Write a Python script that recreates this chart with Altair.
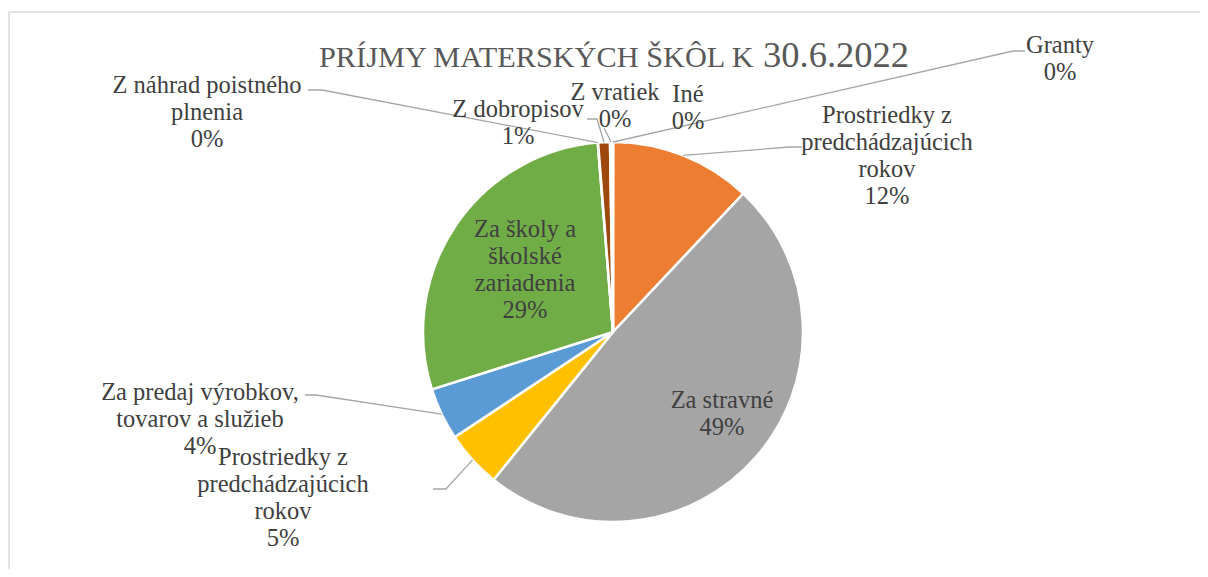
import math
import altair as alt
import pandas as pd

# ---------------- data ----------------
CATEGORIES = [
    "Granty",
    "Prostriedky z predchádzajúcich rokov",
    "Za stravné",
    "Prostriedky z predchádzajúcich rokov ",
    "Za predaj výrobkov, tovarov a služieb",
    "Za školy a školské zariadenia",
    "Z náhrad poistného plnenia",
    "Z dobropisov",
    "Z vratiek",
    "Iné",
]
VALUES = [0.02, 12.0, 48.8, 4.85, 4.45, 28.6, 0.03, 1.0, 0.2, 0.05]
COLORS = ["#4472C4", "#ED7D31", "#A5A5A5", "#FFC000", "#5B9BD5",
          "#70AD47", "#264478", "#9E480E", "#636363", "#997300"]
LABEL_LINES = [
    ["Granty"],
    ["Prostriedky z", "predchádzajúcich", "rokov"],
    ["Za stravné"],
    ["Prostriedky z", "predchádzajúcich", "rokov"],
    ["Za predaj výrobkov,", "tovarov a služieb"],
    ["Za školy a", "školské", "zariadenia"],
    ["Z náhrad poistného", "plnenia"],
    ["Z dobropisov"],
    ["Z vratiek"],
    ["Iné"],
]
TITLE_MAIN = "PRÍJMY MATERSKÝCH ŠKÔL K"
TITLE_DATE = "30.6.2022"

# ---------------- layout (px, relative to pie centre) ----------------
W, H = 1191, 557
CX, CY, R = 604, 320, 190
LINE_H = 27
LABEL_POS = [(447, -279), (274, -209), (109, 76), (-330, 133), (-413, 68),
             (-88, -95), (-406, -239), (-95, -215), (2, -232), (75, -230)]
# leader: (label end, elbow) or None
LEADERS = [((412, -281), (400, -281)), ((189, -185), (177, -185)), None,
           ((-180, 157), (-167, 157)), ((-308, 63), (-297, 63)), None,
           ((-305, -242), (-291, -242)), ((-26, -213), (-16, -213)),
           ((-9, -204), (-9, -204)), None]

n = len(VALUES)
total = sum(VALUES)
pcts = [f"{round(v / total * 100)}%" for v in VALUES]

pie_df = pd.DataFrame({"id": list(range(n)), "cat": CATEGORIES, "value": VALUES})

lab_rows = []
for i in range(n):
    lines = LABEL_LINES[i] + [pcts[i]]
    for j, t in enumerate(lines):
        lab_rows.append({"x": LABEL_POS[i][0], "y": LABEL_POS[i][1] + j * LINE_H, "text": t})
lab_df = pd.DataFrame(lab_rows)

lead_rows = []
cum = 0.0
for i, v in enumerate(VALUES):
    mid = (cum + v / 2) / total * 2 * math.pi
    cum += v
    if LEADERS[i] is None:
        continue
    (sx, sy), (ex, ey) = LEADERS[i]
    px, py = R * math.sin(mid), -R * math.cos(mid)
    for k, (xx, yy) in enumerate([(sx, sy), (ex, ey), (px, py)]):
        lead_rows.append({"lid": i, "k": k, "x": xx, "y": yy})
lead_df = pd.DataFrame(lead_rows)

XS = alt.Scale(domain=[-CX, W - CX], range=[0, W], nice=False, zero=False)
YS = alt.Scale(domain=[-CY, H - CY], range=[0, H], nice=False, zero=False)
FONT = "Liberation Serif"

arcs = alt.Chart(pie_df).mark_arc(outerRadius=R, stroke="white", strokeWidth=2.5).encode(
    theta=alt.Theta("value:Q", stack=True),
    order=alt.Order("id:Q"),
    color=alt.Color("id:N", scale=alt.Scale(domain=list(range(n)), range=COLORS), legend=None),
    x=alt.XDatum(0, type="quantitative", scale=XS, axis=None),
    y=alt.YDatum(0, type="quantitative", scale=YS, axis=None),
)

leaders = alt.Chart(lead_df).mark_line(color="#a6a6a6", strokeWidth=1.3).encode(
    x=alt.X("x:Q", scale=XS, axis=None),
    y=alt.Y("y:Q", scale=YS, axis=None),
    detail="lid:N",
    order="k:Q",
)

labels = alt.Chart(lab_df).mark_text(
    font=FONT, fontSize=24.5, color="#404040", align="center", baseline="alphabetic",
).encode(
    x=alt.X("x:Q", scale=XS, axis=None),
    y=alt.Y("y:Q", scale=YS, axis=None),
    text="text:N",
)

title_df1 = pd.DataFrame({"x": [-294], "y": [-265], "text": [TITLE_MAIN]})
title_df2 = pd.DataFrame({"x": [150], "y": [-265], "text": [TITLE_DATE]})
title1 = alt.Chart(title_df1).mark_text(
    font=FONT, fontSize=30.3, color="#595959", align="left", baseline="alphabetic"
).encode(x=alt.X("x:Q", scale=XS, axis=None), y=alt.Y("y:Q", scale=YS, axis=None), text="text:N")
title2 = alt.Chart(title_df2).mark_text(
    font=FONT, fontSize=36.5, color="#595959", align="left", baseline="alphabetic"
).encode(x=alt.X("x:Q", scale=XS, axis=None), y=alt.Y("y:Q", scale=YS, axis=None), text="text:N")

one = pd.DataFrame({"a": [0]})
border_top = alt.Chart(one).mark_rule(color="#d9d9d9", strokeWidth=1.5).encode(
    x=alt.value(0), x2=alt.value(W), y=alt.value(0))
border_left = alt.Chart(one).mark_rule(color="#d9d9d9", strokeWidth=1.5).encode(
    x=alt.value(0), y=alt.value(0), y2=alt.value(H))

chart = alt.layer(border_top, border_left, arcs, leaders, labels, title1, title2).properties(
    width=W, height=H,
    autosize=alt.AutoSizeParams(type="none"),
    padding={"left": 1, "top": 4, "right": 0, "bottom": 0},
).configure_view(stroke=None)

chart.save("out.html", embed_options={"renderer": "svg", "actions": False})
